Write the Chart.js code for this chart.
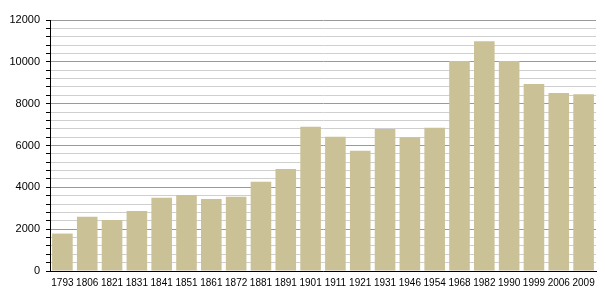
<!DOCTYPE html>
<html>
<head>
<meta charset="utf-8">
<script src="https://cdn.jsdelivr.net/npm/chart.js@4/dist/chart.umd.min.js"></script>
<style>
  html, body { margin: 0; padding: 0; background: #fff; }
  #wrap { width: 605px; height: 300px; }
</style>
</head>
<body>
<div id="wrap"><canvas id="chart" width="605" height="300"></canvas></div>
<script>
// census years and population
const years = ['1793', '1806', '1821', '1831', '1841', '1851', '1861', '1872', '1881', '1891',
  '1901', '1911', '1921', '1931', '1946', '1954', '1968', '1982', '1990', '1999', '2006', '2009'];
const population = [1790, 2590, 2440, 2870, 3500, 3630, 3440, 3550, 4270, 4880,
  6900, 6420, 5750, 6790, 6390, 6850, 10040, 10990, 10040, 8940, 8510, 8450];

const yMax = 12000;
const yStep = 400;      // minor grid step
const yLabelStep = 2000; // labelled ticks

Chart.defaults.font.family = '"Liberation Sans", Arial, sans-serif';
Chart.defaults.font.size = 11;
Chart.defaults.color = '#000';

const ctx = document.getElementById('chart').getContext('2d');
new Chart(ctx, {
  type: 'bar',
  data: {
    labels: years,
    datasets: [{
      data: population,
      backgroundColor: '#cbc197',
      borderWidth: 0,
      barPercentage: 0.83,
      categoryPercentage: 1.0,
    }],
  },
  options: {
    responsive: false,
    animation: false,
    layout: { padding: { top: 20, right: 9, left: 0, bottom: 0 } },
    plugins: { legend: { display: false }, tooltip: { enabled: false } },
    scales: {
      x: {
        grid: { display: false, drawTicks: false },
        border: { color: '#000', width: 1 },
        ticks: { padding: 6, maxRotation: 0, autoSkip: false, font: { size: 10 } },
        afterFit: (scale) => { scale.height = 29; },
      },
      y: {
        min: 0,
        max: yMax,
        ticks: {
          stepSize: yStep,
          autoSkip: false,
          padding: 6,
          callback: (v) => (v % yLabelStep === 0 ? v : ''),
        },
        grid: {
          color: (c) => (c.tick && c.tick.value % yLabelStep === 0 ? '#9a9a9a' : '#cfcfcf'),
          tickColor: '#000',
          tickLength: 4,
        },
        border: { color: '#000', width: 1 },
        afterFit: (scale) => { scale.width = 50; },
      },
    },
  },
});
</script>
</body>
</html>
